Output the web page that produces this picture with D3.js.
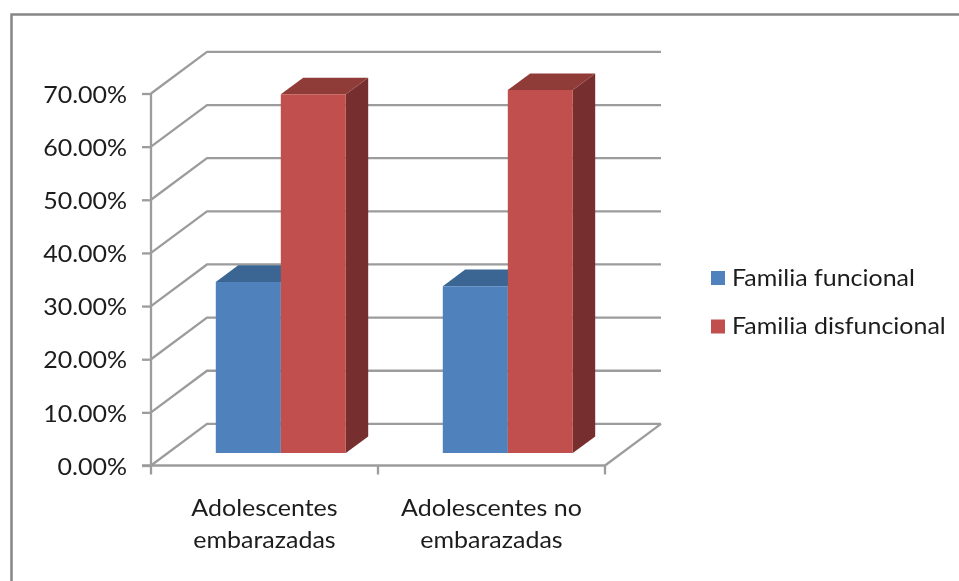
<!DOCTYPE html>
<html>
  <head>
    <meta charset="utf-8">
    <title>Familia funcional y disfuncional</title>
    <script src="https://d3js.org/d3.v7.min.js"></script>
    <style>
      html, body { margin: 0; padding: 0; background: #fff; overflow: hidden; }
      text { font-family: Lato, "Open Sans", sans-serif; fill: #1c1c1c; }
    </style>
  </head>

  <body>
    <div class="chart"></div>

    <script>
      // values
      const categories = [["Adolescentes", "embarazadas"], ["Adolescentes no", "embarazadas"]];
      const seriesNames = ["Familia funcional", "Familia disfuncional"];
      const funcional = [0.322, 0.314];
      const disfuncional = [0.675, 0.683];
      const yTicks = [0, 0.1, 0.2, 0.3, 0.4, 0.5, 0.6, 0.7];

      const colors = [
        { front: "#4f81bd", top: "#3b6592", side: "#2f5078" },
        { front: "#c0504d", top: "#8f3b39", side: "#772f2d" }
      ];
      const gridColor = "#9c9c9c";

      const svg = d3.select("div.chart").append("svg")
        .attr("width", 959)
        .attr("height", 581);

      const soft = svg.append("defs").append("filter").attr("id", "soft");
      soft.append("feGaussianBlur").attr("stdDeviation", 0.55);

      const root = svg.append("g").attr("filter", "url(#soft)");

      // chart frame, only top and left show in the crop
      root.append("path")
        .attr("d", "M11.5,581V14.5H959")
        .attr("fill", "none")
        .attr("stroke", "#868686")
        .attr("stroke-width", 2.5);

      const y = d3.scaleLinear().domain([0, 0.7]).range([465.5, 93.5]);
      const x = d3.scaleBand().domain([0, 1]).range([151, 605]);
      const xEdge = d3.scaleLinear().domain([0, 2]).range([150.5, 604.5]);

      // 3d depth: shift of the back wall from the front plane
      const depth = { dx: 56, dy: -41.6 };
      const near = 0.3, far = 0.7;
      const project = (px, py, d) => [px + depth.dx * d, py + depth.dy * d];

      const line = d3.line();

      // the source picture is stretched sideways, so the glyphs are too
      const stretch = function () {
        this.setAttribute("textLength", this.getComputedTextLength() * 1.11);
        this.setAttribute("lengthAdjust", "spacingAndGlyphs");
      };

      // gridlines: side wall diagonal then along the back wall
      root.append("g").selectAll("path")
        .data(yTicks)
        .join("path")
        .attr("d", (t) => line([project(151, y(t), 0), project(151, y(t), 1), project(605, y(t), 1)]))
        .attr("fill", "none")
        .attr("stroke", gridColor)
        .attr("stroke-width", 2.3);

      // floor right edge
      root.append("path")
        .attr("d", line([project(605, y(0), 0), project(605, y(0), 1)]))
        .attr("fill", "none")
        .attr("stroke", gridColor)
        .attr("stroke-width", 2.3);

      // bars
      const inner = d3.scaleBand().domain([0, 1]).range([48, 178]);
      const values = [funcional, disfuncional];
      const bars = root.append("g");

      categories.forEach((c, ci) => {
        values.forEach((vals, si) => {
          const x0 = x(ci) + inner(si);
          const x1 = x0 + inner.bandwidth();
          const y0 = y(0);
          const y1 = y(vals[ci]);
          const col = colors[si];
          const poly = (pts, fill) => bars.append("path")
            .attr("d", line(pts) + "Z")
            .attr("fill", fill);

          poly([project(x1, y0, near), project(x1, y0, far), project(x1, y1, far), project(x1, y1, near)], col.side);
          poly([project(x0, y1, near), project(x1, y1, near), project(x1, y1, far), project(x0, y1, far)], col.top);
          poly([project(x0, y0, near), project(x1, y0, near), project(x1, y1, near), project(x0, y1, near)], col.front);
        });
      });

      // axes
      const yAxis = root.append("g")
        .attr("transform", "translate(151,0)")
        .call(d3.axisLeft(y).tickValues(yTicks).tickFormat(d3.format(".2%")).tickSize(9).tickPadding(15));

      const xAxis = root.append("g")
        .attr("transform", "translate(0,465.5)")
        .call(d3.axisBottom(xEdge).tickValues([0, 1, 2]).tickFormat("").tickSize(9));

      [yAxis, xAxis].forEach((a) => {
        a.selectAll("path, line").attr("stroke", gridColor).attr("stroke-width", 2.3);
      });
      yAxis.select(".domain").attr("d", "M0,93.5V465.5");
      xAxis.select(".domain").attr("d", "M142,0H605");

      yAxis.selectAll("text")
        .attr("font-size", 22.5)
        .style("font-family", "Lato, sans-serif")
        .attr("dy", "0.39em")
        .each(stretch);

      // category labels, two lines each
      const catLabels = root.append("g").selectAll("text")
        .data(categories)
        .join("text")
        .attr("text-anchor", "middle")
        .attr("font-size", 22.5);

      catLabels.selectAll("tspan")
        .data((d, i) => d.map((s) => ({ s: s, i: i })))
        .join("tspan")
        .attr("x", (d) => x(d.i) + x.bandwidth() / 2)
        .attr("y", (d, j) => 516 + j * 32)
        .text((d) => d.s)
        .each(stretch);

      // legend
      const legend = root.append("g").selectAll("g")
        .data(seriesNames)
        .join("g")
        .attr("transform", (d, i) => `translate(711,${271 + i * 48.5})`);

      legend.append("rect")
        .attr("width", 14)
        .attr("height", 14)
        .attr("fill", (d, i) => colors[i].front);

      legend.append("text")
        .attr("x", 21)
        .attr("y", 14.5)
        .attr("font-size", 22.5)
        .text((d) => d)
        .each(stretch);
    </script>
  </body>
</html>
